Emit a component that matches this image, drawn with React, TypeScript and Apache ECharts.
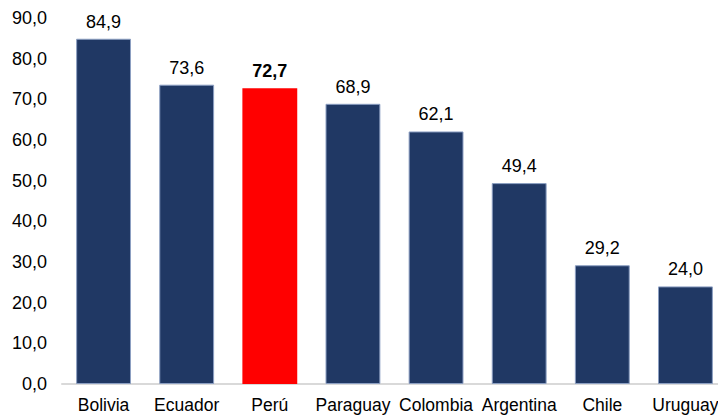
import React, { useEffect, useRef } from "react";
import * as echarts from "echarts";

const categories = ["Bolivia", "Ecuador", "Perú", "Paraguay", "Colombia", "Argentina", "Chile", "Uruguay"];
const values = [84.9, 73.6, 72.7, 68.9, 62.1, 49.4, 29.2, 24.0];
const highlight = "Perú";

const fmt = (v: number) => v.toFixed(1).replace(".", ",");

export default function App() {
  const ref = useRef<HTMLDivElement>(null);
  useEffect(() => {
    if (!ref.current) return;
    const chart = echarts.init(ref.current, undefined, { renderer: "svg" });
    const font = "Arial, 'Liberation Sans', sans-serif";
    chart.setOption({
      animation: false,
      grid: { left: 62, width: 665, top: 18, bottom: 35, outerBoundsMode: "none", containLabel: false },
      xAxis: {
        type: "category",
        data: categories,
        axisLine: { lineStyle: { color: "#D9D9D9", width: 2 } },
        axisTick: { show: false },
        axisLabel: { color: "#000", fontSize: 17.5, fontFamily: font, margin: 12, interval: 0 },
      },
      yAxis: {
        type: "value",
        min: 0,
        max: 90,
        interval: 10,
        splitLine: { show: false },
        axisLine: { show: false },
        axisTick: { show: false },
        axisLabel: { color: "#000", fontSize: 18, fontFamily: font, margin: 15, formatter: (v: number) => fmt(v) },
      },
      series: [
        {
          type: "bar",
          barCategoryGap: "34%",
          data: values.map((v, i) => {
            const hl = categories[i] === highlight;
            return {
              value: v,
              itemStyle: hl
                ? { color: "#FF0000" }
                : { color: "#203864", borderColor: "#8C9FC2", borderWidth: 1 },
              label: hl ? { fontWeight: "bold" } : undefined,
            };
          }),
          label: {
            show: true,
            position: "top",
            distance: 8,
            color: "#000",
            fontSize: 18,
            fontFamily: font,
            formatter: (p: any) => fmt(p.value),
          },
        },
      ],
    });
    return () => chart.dispose();
  }, []);
  return <div ref={ref} style={{ position: "absolute", left: 0, top: 0, width: 718, height: 419 }} />;
}
